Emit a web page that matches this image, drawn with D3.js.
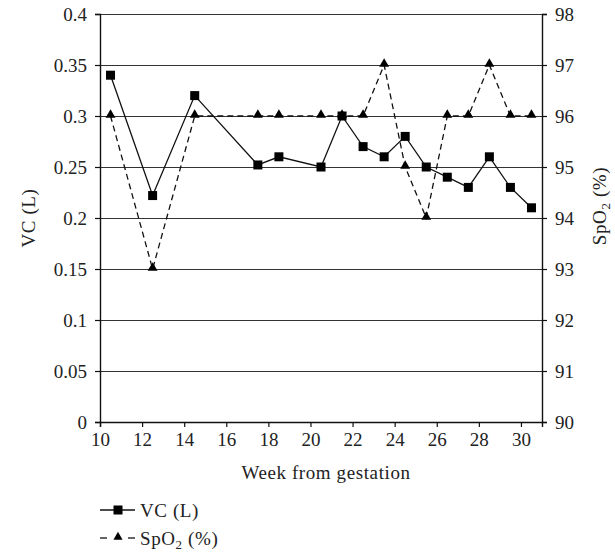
<!DOCTYPE html>
<html>
<head>
<meta charset="utf-8">
<script src="https://cdn.jsdelivr.net/npm/d3@7"></script>
<style>
  body { margin: 0; background: #fff; }
</style>
</head>
<body>
<div id="chart"></div>
<script>
// data
const weeks = [10.5, 12.5, 14.5, 17.5, 18.5, 20.5, 21.5, 22.5, 23.5, 24.5, 25.5, 26.5, 27.5, 28.5, 29.5, 30.5]
const vc = [0.34, 0.222, 0.32, 0.252, 0.26, 0.25, 0.3, 0.27, 0.26, 0.28, 0.25, 0.24, 0.23, 0.26, 0.23, 0.21]
const spo2 = [96, 93, 96, 96, 96, 96, 96, 96, 97, 95, 94, 96, 96, 97, 96, 96]

const xTicks = [10, 12, 14, 16, 18, 20, 22, 24, 26, 28, 30]
const vcTicks = ['0', '0.05', '0.1', '0.15', '0.2', '0.25', '0.3', '0.35', '0.4']
const spo2Ticks = [90, 91, 92, 93, 94, 95, 96, 97, 98]

const margin = { top: 14, right: 73, bottom: 132, left: 100 }
const width = 615 - margin.left - margin.right
const height = 554 - margin.top - margin.bottom
const serif = "'Liberation Serif', 'Times New Roman', 'DejaVu Serif', serif"
const fontSize = 19
const subSize = 13

const svg = d3
  .select('#chart')
  .append('svg')
  .attr('width', width + margin.left + margin.right)
  .attr('height', height + margin.top + margin.bottom)
  .attr('font-family', serif)
  .append('g')
  .attr('transform', 'translate(' + margin.left + ',' + margin.top + ')')

const xPositionScale = d3.scaleLinear().domain([10, 31]).range([0, width])
const yLeft = d3.scaleLinear().domain([0, 0.4]).range([height, 0])
const yRight = d3.scaleLinear().domain([90, 98]).range([height, 0])

const datapoints = weeks.map((w, i) => ({ week: w, vc: vc[i], spo2: spo2[i] }))

// horizontal gridlines
svg
  .selectAll('.grid')
  .data(vcTicks.slice(1))
  .enter()
  .append('line')
  .attr('class', 'grid')
  .attr('x1', 0)
  .attr('x2', width)
  .attr('y1', d => yLeft(+d) + 0.5)
  .attr('y2', d => yLeft(+d) + 0.5)
  .attr('stroke', '#333')
  .attr('stroke-width', 1.2)

// axes
const xAxis = d3.axisBottom(xPositionScale).tickValues(xTicks).tickSize(5).tickPadding(6)
const gx = svg.append('g').attr('transform', 'translate(0,' + height + ')').call(xAxis)

const leftAxis = d3
  .axisLeft(yLeft)
  .tickValues(vcTicks.map(Number))
  .tickFormat((d, i) => vcTicks[i])
  .tickSize(5)
  .tickPadding(8)
const gl = svg.append('g').call(leftAxis)

const rightAxis = d3.axisRight(yRight).tickValues(spo2Ticks).tickSize(5).tickPadding(8)
const gr = svg.append('g').attr('transform', 'translate(' + width + ',0)').call(rightAxis)

;[gx, gl, gr].forEach(g => {
  g.attr('font-family', serif).attr('font-size', fontSize)
  g.selectAll('text').attr('fill', '#222')
  g.selectAll('line').attr('stroke', '#111').attr('stroke-width', 1.2)
  g.select('.domain').attr('stroke', '#111').attr('stroke-width', 1.4)
})

// SpO2 dashed line
const lineSpo2 = d3
  .line()
  .x(d => xPositionScale(d.week))
  .y(d => yRight(d.spo2))

svg
  .append('path')
  .datum(datapoints)
  .attr('d', lineSpo2)
  .attr('fill', 'none')
  .attr('stroke', '#111')
  .attr('stroke-width', 1.3)
  .attr('stroke-dasharray', '6,4')

const triangle = d3.symbol().type(d3.symbolTriangle).size(42)

svg
  .selectAll('.tri')
  .data(datapoints)
  .enter()
  .append('path')
  .attr('class', 'tri')
  .attr('d', triangle)
  .attr('transform', d => 'translate(' + xPositionScale(d.week) + ',' + (yRight(d.spo2) - 1) + ')')
  .attr('fill', '#000')

// VC solid line
const lineVc = d3
  .line()
  .x(d => xPositionScale(d.week))
  .y(d => yLeft(d.vc))

svg
  .append('path')
  .datum(datapoints)
  .attr('d', lineVc)
  .attr('fill', 'none')
  .attr('stroke', '#111')
  .attr('stroke-width', 1.3)

const sq = 9
svg
  .selectAll('.sq')
  .data(datapoints)
  .enter()
  .append('rect')
  .attr('class', 'sq')
  .attr('x', d => xPositionScale(d.week) - sq / 2)
  .attr('y', d => yLeft(d.vc) - sq / 2)
  .attr('width', sq)
  .attr('height', sq)
  .attr('fill', '#000')

// axis titles
svg
  .append('text')
  .text('Week from gestation')
  .attr('text-anchor', 'middle')
  .attr('font-size', fontSize)
  .attr('letter-spacing', 0.6)
  .attr('fill', '#222')
  .attr('x', width / 2 + 5)
  .attr('y', height + 57)

svg
  .append('text')
  .text('VC (L)')
  .attr('text-anchor', 'middle')
  .attr('font-size', fontSize)
  .attr('letter-spacing', 0.6)
  .attr('fill', '#222')
  .attr('transform', 'translate(-65,' + (height / 2) + ') rotate(-90)')

const rightTitle = svg
  .append('text')
  .attr('text-anchor', 'middle')
  .attr('font-size', fontSize)
  .attr('letter-spacing', 0.6)
  .attr('fill', '#222')
  .attr('transform', 'translate(' + (width + 64) + ',' + (height / 2 - 12) + ') rotate(-90)')
rightTitle.append('tspan').text('SpO')
rightTitle.append('tspan').text('2').attr('font-size', subSize).attr('dy', 4)
rightTitle.append('tspan').text(' (%)').attr('dy', -4)

// legend
const legend = svg.append('g').attr('transform', 'translate(0,' + (height + 88) + ')')

legend
  .append('line')
  .attr('x1', 0)
  .attr('x2', 35)
  .attr('y1', 0)
  .attr('y2', 0)
  .attr('stroke', '#111')
  .attr('stroke-width', 1.3)
legend
  .append('rect')
  .attr('x', 18 - sq / 2)
  .attr('y', -sq / 2)
  .attr('width', sq)
  .attr('height', sq)
  .attr('fill', '#000')
legend
  .append('text')
  .text('VC (L)')
  .attr('font-size', fontSize)
  .attr('letter-spacing', 0.6)
  .attr('fill', '#222')
  .attr('x', 40)
  .attr('y', 7)

legend
  .selectAll('.dash')
  .data([[0, 7], [28, 35]])
  .enter()
  .append('line')
  .attr('x1', d => d[0])
  .attr('x2', d => d[1])
  .attr('y1', 28)
  .attr('y2', 28)
  .attr('stroke', '#111')
  .attr('stroke-width', 1.3)
legend
  .append('path')
  .attr('d', d3.symbol().type(d3.symbolTriangle).size(36))
  .attr('transform', 'translate(18,27)')
  .attr('fill', '#000')
const leg2 = legend
  .append('text')
  .attr('font-size', fontSize)
  .attr('letter-spacing', 0.6)
  .attr('fill', '#222')
  .attr('x', 40)
  .attr('y', 35)
leg2.append('tspan').text('SpO')
leg2.append('tspan').text('2').attr('font-size', subSize).attr('dy', 4)
leg2.append('tspan').text(' (%)').attr('dy', -4)
</script>
</body>
</html>
